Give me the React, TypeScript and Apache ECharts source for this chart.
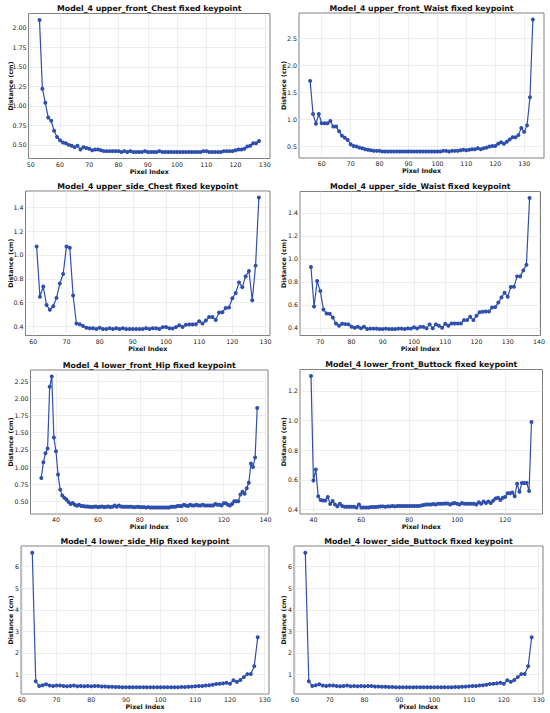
import React, { useEffect, useRef } from 'react';
import * as echarts from 'echarts';

const FONT = '"DejaVu Sans", sans-serif';
const BLUE = '#2f4fae';

// ---- data (x index starts and distance values in cm) ----
const upperFrontChestStart = 53;
const upperFrontChestValues = [
  2.10, 1.22, 1.04, 0.85, 0.81, 0.68, 0.60, 0.56, 0.53, 0.52,
  0.50, 0.49, 0.47, 0.49, 0.44, 0.47, 0.46, 0.45, 0.43, 0.44,
  0.44, 0.43, 0.42, 0.42, 0.42, 0.42, 0.42, 0.42, 0.41, 0.42,
  0.41, 0.42, 0.41, 0.41, 0.41, 0.41, 0.42, 0.41, 0.41, 0.41,
  0.41, 0.42, 0.41, 0.41, 0.41, 0.41, 0.41, 0.41, 0.41, 0.41,
  0.41, 0.41, 0.41, 0.41, 0.41, 0.41, 0.42, 0.42, 0.41, 0.41,
  0.41, 0.41, 0.41, 0.42, 0.42, 0.42, 0.42, 0.43, 0.44, 0.44,
  0.45, 0.48, 0.49, 0.52, 0.52, 0.55,
];

const upperFrontWaistStart = 56;
const upperFrontWaistValues = [
  1.71, 1.10, 0.92, 1.10, 0.93, 0.93, 0.93, 0.97, 0.87, 0.87,
  0.78, 0.70, 0.66, 0.62, 0.54, 0.51, 0.50, 0.48, 0.47, 0.45,
  0.44, 0.43, 0.42, 0.42, 0.42, 0.41, 0.41, 0.41, 0.41, 0.41,
  0.41, 0.41, 0.41, 0.41, 0.41, 0.41, 0.41, 0.41, 0.41, 0.41,
  0.41, 0.41, 0.41, 0.41, 0.41, 0.41, 0.42, 0.42, 0.41, 0.42,
  0.42, 0.42, 0.43, 0.44, 0.43, 0.44, 0.45, 0.45, 0.47, 0.45,
  0.47, 0.48, 0.50, 0.51, 0.51, 0.55, 0.58, 0.55, 0.59, 0.63,
  0.67, 0.67, 0.71, 0.84, 0.77, 0.89, 1.41, 2.84,
];

const upperSideChestStart = 61;
const upperSideChestValues = [
  1.07, 0.65, 0.735, 0.58, 0.54, 0.57, 0.64, 0.76, 0.84, 1.07,
  1.06, 0.66, 0.425, 0.42, 0.405, 0.39, 0.385, 0.385, 0.38, 0.39,
  0.38, 0.38, 0.385, 0.38, 0.385, 0.38, 0.385, 0.38, 0.38, 0.38,
  0.38, 0.38, 0.38, 0.385, 0.38, 0.385, 0.385, 0.38, 0.395, 0.397,
  0.385, 0.383, 0.395, 0.41, 0.397, 0.415, 0.418, 0.418, 0.42, 0.445,
  0.425, 0.45, 0.48, 0.48, 0.455, 0.517, 0.52, 0.556, 0.56, 0.637,
  0.68, 0.77, 0.73, 0.82, 0.865, 0.62, 0.91, 1.48,
];

const upperSideWaistStart = 67;
const upperSideWaistValues = [
  0.93, 0.586, 0.807, 0.72, 0.56, 0.525, 0.522, 0.49, 0.438, 0.417,
  0.435, 0.432, 0.43, 0.41, 0.40, 0.41, 0.397, 0.41, 0.39, 0.393,
  0.393, 0.393, 0.39, 0.39, 0.393, 0.39, 0.39, 0.39, 0.393, 0.393,
  0.39, 0.395, 0.393, 0.405, 0.395, 0.408, 0.408, 0.395, 0.43, 0.397,
  0.43, 0.417, 0.40, 0.435, 0.417, 0.438, 0.438, 0.438, 0.438, 0.467,
  0.467, 0.496, 0.467, 0.505, 0.535, 0.54, 0.542, 0.542, 0.577, 0.58,
  0.62, 0.665, 0.705, 0.67, 0.755, 0.757, 0.848, 0.848, 0.90, 0.95, 1.53,
];

const lowerFrontHipStart = 33;
const lowerFrontHipValues = [
  0.84, 1.07, 1.20, 1.27, 2.17, 2.32, 1.43, 1.23, 0.89, 0.67,
  0.585, 0.55, 0.525, 0.49, 0.46, 0.475, 0.45, 0.436, 0.45, 0.43,
  0.43, 0.425, 0.425, 0.42, 0.415, 0.42, 0.425, 0.415, 0.42, 0.425,
  0.415, 0.42, 0.425, 0.415, 0.42, 0.44, 0.42, 0.44, 0.425, 0.42,
  0.42, 0.42, 0.42, 0.42, 0.415, 0.415, 0.42, 0.415, 0.415, 0.415,
  0.41, 0.415, 0.41, 0.41, 0.41, 0.41, 0.41, 0.41, 0.41, 0.41,
  0.41, 0.41, 0.42, 0.42, 0.42, 0.43, 0.43, 0.43, 0.45, 0.44,
  0.43, 0.45, 0.44, 0.44, 0.45, 0.44, 0.44, 0.45, 0.44, 0.44,
  0.44, 0.44, 0.44, 0.46, 0.45, 0.45, 0.44, 0.47, 0.47, 0.45,
  0.44, 0.46, 0.50, 0.50, 0.50, 0.60, 0.64, 0.61, 0.69, 0.77,
  1.05, 1.00, 1.14, 1.86,
];

const lowerFrontButtockStart = 39;
const lowerFrontButtockValues = [
  1.30, 0.596, 0.67, 0.49, 0.465, 0.462, 0.462, 0.485, 0.438, 0.458,
  0.435, 0.422, 0.44, 0.425, 0.42, 0.42, 0.42, 0.42, 0.42, 0.415,
  0.435, 0.415, 0.415, 0.415, 0.415, 0.418, 0.418, 0.418, 0.42, 0.422,
  0.422, 0.42, 0.422, 0.422, 0.425, 0.422, 0.425, 0.425, 0.425, 0.425,
  0.425, 0.425, 0.425, 0.425, 0.425, 0.425, 0.428, 0.432, 0.435, 0.435,
  0.435, 0.438, 0.435, 0.44, 0.44, 0.44, 0.442, 0.442, 0.435, 0.442,
  0.445, 0.44, 0.435, 0.445, 0.44, 0.44, 0.44, 0.44, 0.44, 0.435,
  0.45, 0.44, 0.455, 0.445, 0.455, 0.445, 0.46, 0.475, 0.48, 0.465,
  0.48, 0.485, 0.51, 0.51, 0.515, 0.49, 0.575, 0.52, 0.58, 0.58,
  0.58, 0.525, 0.99,
];

const lowerSideHipStart = 63;
const lowerSideHipValues = [
  6.65, 0.69, 0.47, 0.50, 0.55, 0.49, 0.47, 0.49, 0.49, 0.47,
  0.46, 0.47, 0.49, 0.46, 0.47, 0.46, 0.47, 0.46, 0.47, 0.47,
  0.45, 0.45, 0.43, 0.43, 0.42, 0.42, 0.41, 0.41, 0.41, 0.41,
  0.41, 0.41, 0.41, 0.41, 0.41, 0.41, 0.41, 0.41, 0.41, 0.41,
  0.41, 0.41, 0.41, 0.42, 0.42, 0.43, 0.44, 0.46, 0.47, 0.47,
  0.49, 0.50, 0.53, 0.56, 0.57, 0.59, 0.62, 0.57, 0.74, 0.66,
  0.75, 0.88, 1.02, 1.03, 1.39, 2.73,
];

const lowerSideButtockStart = 63;
const lowerSideButtockValues = [
  6.65, 0.69, 0.47, 0.50, 0.55, 0.49, 0.47, 0.49, 0.49, 0.47,
  0.46, 0.47, 0.49, 0.46, 0.47, 0.46, 0.47, 0.46, 0.47, 0.47,
  0.45, 0.45, 0.43, 0.43, 0.42, 0.42, 0.41, 0.41, 0.41, 0.41,
  0.41, 0.41, 0.41, 0.41, 0.41, 0.41, 0.41, 0.41, 0.41, 0.41,
  0.41, 0.41, 0.41, 0.42, 0.42, 0.43, 0.44, 0.46, 0.47, 0.47,
  0.49, 0.50, 0.53, 0.56, 0.57, 0.59, 0.62, 0.57, 0.74, 0.66,
  0.75, 0.88, 1.02, 1.03, 1.39, 2.73,
];

// ---- tick labels ----
const xTicks50to130 = [50, 60, 70, 80, 90, 100, 110, 120, 130];
const xTicks60to130 = [60, 70, 80, 90, 100, 110, 120, 130];
const xTicks70to140 = [70, 80, 90, 100, 110, 120, 130, 140];
const xTicks40to140 = [40, 60, 80, 100, 120, 140];
const xTicks40to120 = [40, 60, 80, 100, 120];
const yTicksQuarter = [0.5, 0.75, 1.0, 1.25, 1.5, 1.75, 2.0];
const yTicksQuarterHip = [0.5, 0.75, 1.0, 1.25, 1.5, 1.75, 2.0, 2.25];
const yTicksHalf = [0.5, 1.0, 1.5, 2.0, 2.5];
const yTicksFifth = [0.4, 0.6, 0.8, 1.0, 1.2, 1.4];
const yTicksFifthShort = [0.4, 0.6, 0.8, 1.0, 1.2];
const yTicksUnit = [1, 2, 3, 4, 5, 6];

const titles = [
  'Model_4 upper_front_Chest fixed keypoint',
  'Model_4 upper_front_Waist fixed keypoint',
  'Model_4 upper_side_Chest fixed keypoint',
  'Model_4 upper_side_Waist fixed keypoint',
  'Model_4 lower_front_Hip fixed keypoint',
  'Model_4 lower_front_Buttock fixed keypoint',
  'Model_4 lower_side_Hip fixed keypoint',
  'Model_4 lower_side_Buttock fixed keypoint',
];

const panels = [
  { title: titles[0], start: upperFrontChestStart, values: upperFrontChestValues, xTicks: xTicks50to130, yTicks: yTicksQuarter, dec: 2, box: [28.5, 270, 13.5, 158.5], yGap: 15 },
  { title: titles[1], start: upperFrontWaistStart, values: upperFrontWaistValues, xTicks: xTicks60to130, yTicks: yTicksHalf, dec: 1, box: [299, 544, 13, 158], yGap: 12.2 },
  { title: titles[2], start: upperSideChestStart, values: upperSideChestValues, xTicks: xTicks60to130, yTicks: yTicksFifth, dec: 1, box: [25.5, 270, 191, 335.5], yGap: 12 },
  { title: titles[3], start: upperSideWaistStart, values: upperSideWaistValues, xTicks: xTicks70to140, yTicks: yTicksFifth, dec: 1, box: [300, 540.5, 191.5, 335.5], yGap: 13.2 },
  { title: titles[4], start: lowerFrontHipStart, values: lowerFrontHipValues, xTicks: xTicks40to140, yTicks: yTicksQuarterHip, dec: 2, box: [30.5, 268, 370, 514], yGap: 17 },
  { title: titles[5], start: lowerFrontButtockStart, values: lowerFrontButtockValues, xTicks: xTicks40to120, yTicks: yTicksFifthShort, dec: 1, box: [300, 542.5, 369.5, 514], yGap: 13.2 },
  { title: titles[6], start: lowerSideHipStart, values: lowerSideHipValues, xTicks: xTicks60to130, yTicks: yTicksUnit, dec: 0, box: [21, 269, 546, 694], yGap: 7.5 },
  { title: titles[7], start: lowerSideButtockStart, values: lowerSideButtockValues, xTicks: xTicks60to130, yTicks: yTicksUnit, dec: 0, box: [294, 543, 546, 694], yGap: 7.2 },
];

function buildOption() {
  const grid: any[] = [];
  const xAxis: any[] = [];
  const yAxis: any[] = [];
  const series: any[] = [];
  const graphic: any[] = [];

  panels.forEach((p, i) => {
    const [l, r, t, b] = p.box;
    const n = p.values.length;
    const xLo = p.start;
    const xHi = p.start + n - 1;
    const xPad = (xHi - xLo) * 0.05;
    const yLo = Math.min(...p.values);
    const yHi = Math.max(...p.values);
    const yPad = (yHi - yLo) * 0.05;

    grid.push({
      left: l,
      top: t,
      width: r - l,
      height: b - t,
      show: true,
      borderColor: '#808080',
      borderWidth: 1,
      backgroundColor: 'transparent',
      containLabel: false,
      outerBoundsMode: 'none',
    });

    xAxis.push({
      type: 'value',
      gridIndex: i,
      min: xLo - xPad,
      max: xHi + xPad,
      axisLine: { show: false },
      axisTick: { show: false, customValues: p.xTicks },
      axisLabel: {
        customValues: p.xTicks,
        fontSize: 6.3,
        fontFamily: FONT,
        color: '#222',
        margin: 2.5,
      },
      splitLine: { show: true, lineStyle: { color: '#e3e3e3', width: 0.6 } },
      name: 'Pixel Index',
      nameLocation: 'middle',
      nameGap: 9.5,
      nameMoveOverlap: false,
      nameTextStyle: { fontFamily: FONT, fontWeight: 'bold', fontSize: 6.3, color: '#111' },
    });

    yAxis.push({
      type: 'value',
      gridIndex: i,
      min: yLo - yPad,
      max: yHi + yPad,
      axisLine: { show: false },
      axisTick: { show: false, customValues: p.yTicks },
      axisLabel: {
        customValues: p.yTicks,
        fontSize: 6.3,
        fontFamily: FONT,
        color: '#222',
        margin: 2,
        formatter: (v: number) => Number(v).toFixed(p.dec),
      },
      splitLine: { show: true, lineStyle: { color: '#e3e3e3', width: 0.6 } },
      name: 'Distance (cm)',
      nameLocation: 'middle',
      nameRotate: 90,
      nameGap: p.yGap,
      nameMoveOverlap: false,
      nameTextStyle: { fontFamily: FONT, fontWeight: 'bold', fontSize: 6.3, color: '#111' },
    });

    series.push({
      type: 'line',
      xAxisIndex: i,
      yAxisIndex: i,
      data: p.values.map((v, k) => [p.start + k, v]),
      symbol: 'circle',
      symbolSize: 4,
      showSymbol: true,
      lineStyle: { width: 1.2, color: BLUE },
      itemStyle: { color: BLUE },
      silent: true,
    });

    graphic.push({
      type: 'text',
      x: (l + r) / 2,
      y: t - 1,
      style: {
        text: p.title,
        font: `bold 7.8px ${FONT}`,
        fill: '#111',
        align: 'center',
        verticalAlign: 'bottom',
        textAlign: 'center',
        textVerticalAlign: 'bottom',
      },
    });
  });

  return {
    animation: false,
    backgroundColor: '#ffffff',
    grid,
    xAxis,
    yAxis,
    series,
    graphic,
  };
}

export default function App() {
  const ref = useRef<HTMLDivElement>(null);
  useEffect(() => {
    if (!ref.current) return;
    const chart = echarts.init(ref.current, undefined, { renderer: 'svg' });
    chart.setOption(buildOption() as any);
    return () => chart.dispose();
  }, []);
  return (
    <div
      ref={ref}
      style={{ position: 'absolute', left: 0, top: 0, width: 550, height: 713, background: '#fff' }}
    />
  );
}
